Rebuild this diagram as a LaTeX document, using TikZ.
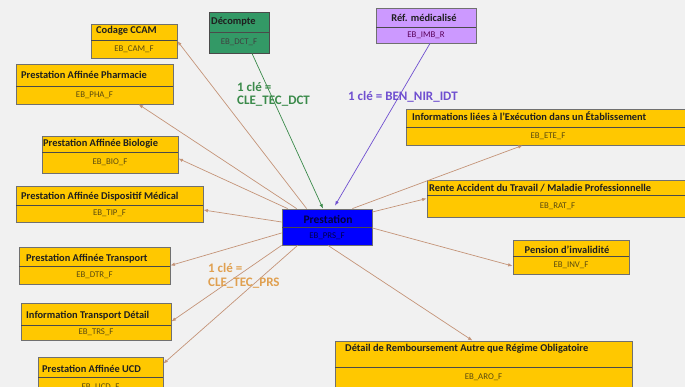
\documentclass[tikz,border=0pt]{standalone}
\usepackage{fontspec}
\setmainfont{Carlito}
\usetikzlibrary{fit,arrows.meta,calc}
\definecolor{bgc}{HTML}{F1F1F1}
\definecolor{ebyellow}{HTML}{FFC800}
\definecolor{boxline}{HTML}{707070}
\definecolor{divc}{HTML}{4A4A4A}
\definecolor{dctfill}{HTML}{339966}
\definecolor{imbfill}{HTML}{CC99FF}
\definecolor{prsfill}{HTML}{0000FF}
\definecolor{conncol}{HTML}{C49478}
\definecolor{greenc}{HTML}{3A8A4A}
\definecolor{purplec}{HTML}{6F4FD0}
\definecolor{orangec}{HTML}{E0A050}
\definecolor{subc}{HTML}{5A4A10}
\newcommand\ent[9]{%
  \node[#7, fit={(#2,#3) (#4,#5)}] (#1) {};
  \draw[divline] (#2,#6) -- (#4,#6);
  \node[#8] (#1s) at ({(#2+#4)/2},{(#6+#5)/2}) {#9};
}
\begin{document}
\begin{tikzpicture}[x=1pt,y=-1pt,
  ebox/.style={draw=boxline, line width=0.8pt, fill=ebyellow, inner sep=0pt},
  dctbox/.style={ebox, fill=dctfill, draw=divc},
  imbbox/.style={ebox, fill=imbfill, draw=boxline},
  prsbox/.style={ebox, fill=prsfill, draw=boxline},
  divline/.style={draw=divc, line width=0.6pt},
  ttl/.style={inner sep=0pt, font=\fontsize{10.4}{12}\selectfont\bfseries, text=black!88},
  subt/.style={inner sep=0pt, font=\fontsize{8.8}{10}\selectfont, text=subc},
  subdct/.style={subt, text=black!75},
  subimb/.style={subt, text=violet!70!black},
  subprs/.style={subt, text=blue!30!black},
  lbl/.style={inner sep=0pt, anchor=west, font=\fontsize{13}{15}\selectfont\bfseries},
  conn/.style={draw=conncol, line width=0.7pt, -{Latex[length=4.5pt,width=3.5pt]}},
  gconn/.style={conn, draw=greenc},
  pconn/.style={conn, draw=purplec},
]
\fill[bgc] (0,0) rectangle (685,387);
\useasboundingbox (0,0) rectangle (685,387);
\clip (0,0) rectangle (685,387);

% entities
\ent{cam}{91}{24}{177}{58}{40}{ebox}{subt}{EB\_CAM\_F}
\node[ttl, anchor=west] (camt) at (96,31) {Codage CCAM};

\ent{pha}{16}{64}{173}{104}{86}{ebox}{subt}{EB\_PHA\_F}
\node[ttl, anchor=west] (phat) at (21,75) {Prestation Affinée Pharmacie};

\ent{dct}{209}{12}{269}{53}{32}{dctbox}{subdct}{EB\_DCT\_F}
\node[ttl, anchor=west] (dctt) at (211,22) {Décompte};

\ent{imb}{376}{8}{476}{43}{27}{imbbox}{subimb}{EB\_IMB\_R}
\node[ttl] (imbt) at (424,18) {Réf. médicalisé};

\ent{bio}{42}{136}{178}{173}{152}{ebox}{subt}{EB\_BIO\_F}
\node[ttl, anchor=west] (biot) at (43,144) {Prestation Affinée Biologie};

\ent{tip}{16}{186}{203}{222}{205}{ebox}{subt}{EB\_TIP\_F}
\node[ttl, anchor=west] (tipt) at (21,197) {Prestation Affinée Dispositif Médical};

\ent{dtr}{19}{247}{170}{284}{266}{ebox}{subt}{EB\_DTR\_F}
\node[ttl, anchor=west] (dtrt) at (26,259) {Prestation Affinée Transport};

\ent{trs}{21}{303}{171}{340}{325}{ebox}{subt}{EB\_TRS\_F}
\node[ttl, anchor=west] (trst) at (26,316) {Information Transport Détail};

\ent{ucd}{38}{357}{163}{398}{377}{ebox}{subt}{EB\_UCD\_F}
\node[ttl, anchor=west] (ucdt) at (42,369) {Prestation Affinée UCD};

\ent{ete}{406}{109}{690}{145}{127}{ebox}{subt}{EB\_ETE\_F}
\node[ttl, anchor=west] (etet) at (412,116) {Informations liées à l'Exécution dans un Établissement};

\ent{rat}{427}{180}{688}{217}{195}{ebox}{subt}{EB\_RAT\_F}
\node[ttl, anchor=west] (ratt) at (429,188) {Rente Accident du Travail / Maladie Professionnelle};

\ent{inv}{513}{240}{629}{274}{256}{ebox}{subt}{EB\_INV\_F}
\node[ttl] (invt) at (567,250) {Pension d'invalidité};

\ent{aro}{335}{341}{632}{387}{367}{ebox}{subt}{EB\_ARO\_F}
\node[ttl, anchor=west] (arot) at (345,349) {Détail de Remboursement Autre que Régime Obligatoire};

\ent{prs}{282}{209}{372}{245}{227}{prsbox}{subprs}{EB\_PRS\_F}
\node[ttl, text=blue!25!black, font=\fontsize{11.5}{13}\selectfont\bfseries] (prst) at (328,219) {Prestation};

% connectors from Prestation
\draw[conn] ([xshift=25pt]prs.north west) -- (cam.east);
\draw[conn] ([xshift=15pt]prs.north west) -- ([xshift=123pt]pha.south west);
\draw[conn] ([xshift=6pt]prs.north west) -- ([yshift=-4pt]bio.east);
\draw[conn] ([yshift=5pt]prs.west) -- ([yshift=-6pt]tip.east);
\draw[conn] ([yshift=-6pt]prs.west) -- (dtr.east);
\draw[conn] (prs.south west) -- (trs.east);
\draw[conn] ([xshift=16pt]prs.south west) -- ([yshift=-7pt]ucd.north east);
\draw[conn] ([xshift=-20pt]prs.north east) -- ([xshift=117pt]ete.south west);
\draw[conn] ([yshift=15pt]prs.east) -- (rat.west);
\draw[conn] ([yshift=-1pt]prs.east) -- ([yshift=-9pt]inv.west);
\draw[conn] ([xshift=1pt]prs.south) -- ([xshift=-11pt]aro.north);
\draw[gconn] ([xshift=13pt]dct.south) -- ([xshift=-4pt]prs.north);
\draw[pconn] ([xshift=4pt]imb.south) -- ([xshift=8pt,yshift=3pt]prs.north);

% labels
\node[lbl, text=greenc] (k1a) at (237,87) {1 clé =};
\node[lbl, text=greenc] (k1b) at (237,101) {CLE\_TEC\_DCT};
\node[lbl, text=purplec] (k2) at (348,97) {1 clé = BEN\_NIR\_IDT};
\node[lbl, text=orangec] (k3a) at (208,268) {1 clé =};
\node[lbl, text=orangec] (k3b) at (208,283) {CLE\_TEC\_PRS};
\end{tikzpicture}
\end{document}
